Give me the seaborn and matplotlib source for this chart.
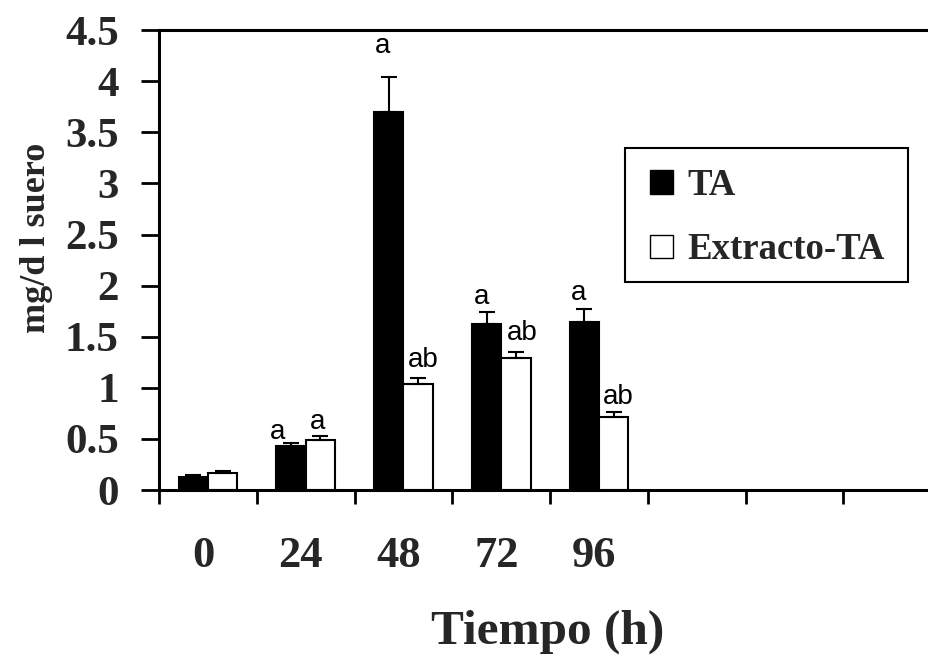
import matplotlib
matplotlib.use("Agg")
import matplotlib.pyplot as plt
from matplotlib.patches import Rectangle
import seaborn as sns
import pandas as pd
import numpy as np

# ---- data ----
times = ["0", "24", "48", "72", "96"]
series_names = ["TA", "Extracto-TA"]
ta_values = [0.13, 0.43, 3.70, 1.62, 1.64]
ta_errors = [0.02, 0.03, 0.34, 0.12, 0.13]
ext_values = [0.17, 0.49, 1.04, 1.29, 0.71]
ext_errors = [0.02, 0.04, 0.06, 0.06, 0.05]
# significance letters: (time, series, text, x offset from bar, y position)
letters = [
    ("24", "TA", "a", -0.14, 0.57),
    ("24", "Extracto-TA", "a", -0.03, 0.67),
    ("48", "TA", "a", -0.06, 4.35),
    ("48", "Extracto-TA", "ab", 0.05, 1.27),
    ("72", "TA", "a", -0.05, 1.89),
    ("72", "Extracto-TA", "ab", 0.07, 1.54),
    ("96", "TA", "a", -0.06, 1.93),
    ("96", "Extracto-TA", "ab", 0.05, 0.91),
]
y_tick_labels = ["0", "0.5", "1", "1.5", "2", "2.5", "3", "3.5", "4", "4.5"]
n_slots = 8  # axis has room for 8 time slots, only 5 used

df = pd.DataFrame({
    "Tiempo": times * 2,
    "Serie": [series_names[0]] * len(times) + [series_names[1]] * len(times),
    "valor": ta_values + ext_values,
})

sns.set_theme(style="white")
plt.rcParams["font.family"] = ["Liberation Serif", "DejaVu Serif"]

fig = plt.figure(figsize=(9.29, 6.56), dpi=100)
ax = fig.add_axes([0.1711, 0.253, 0.842, 0.701])

sns.barplot(data=df, x="Tiempo", y="valor", hue="Serie", order=times,
            hue_order=series_names, palette=["black", "white"],
            edgecolor="black", linewidth=1.5, width=0.6, errorbar=None,
            ax=ax, legend=True)

errs = [ta_errors, ext_errors]
centers = {}
bar_containers = list(ax.containers)
for s, cont in enumerate(bar_containers):
    for j, bar in enumerate(cont.patches):
        xc = bar.get_x() + bar.get_width() / 2
        h = bar.get_height()
        centers[(times[j], series_names[s])] = xc
        ax.errorbar(xc, h, yerr=[[0], [errs[s][j]]], fmt="none",
                    ecolor="black", elinewidth=1.5, capsize=5.5,
                    capthick=1.5, zorder=1)

for t, s, txt, dx, y in letters:
    ax.text(centers[(t, s)] + dx, y, txt, ha="center", va="center",
            fontsize=20, family="Liberation Sans", color="black")

ax.set_xlim(-0.5, n_slots - 0.5)
ax.set_ylim(0, 4.5)
ax.set_yticks(np.arange(0, 4.51, 0.5))
ax.set_yticklabels(y_tick_labels, fontsize=31, fontweight="bold")
ax.set_xticks(np.arange(-0.5, n_slots, 1.0))
ax.set_xticklabels([])
ax.set_xticks(np.arange(len(times)) - 0.05, minor=True)
ax.set_xticklabels(times, minor=True, fontsize=32, fontweight="bold")
ax.tick_params(axis="x", which="minor", length=0, pad=33)
ax.tick_params(axis="x", which="major", direction="out", length=10, width=2,
               color="black", bottom=True)
ax.tick_params(axis="y", direction="out", length=13, width=2, color="black",
               left=True, pad=16)

for side in ["left", "bottom", "top", "right"]:
    ax.spines[side].set_visible(True)
    ax.spines[side].set_color("black")
    ax.spines[side].set_linewidth(2.2)

ax.set_xlabel("Tiempo (h)", fontsize=35.5, fontweight="bold")
ax.xaxis.label.set_verticalalignment("baseline")
ax.xaxis.set_label_coords(0.497, -0.333)
ax.set_ylabel("mg/d l suero", fontsize=26, fontweight="bold")
ax.yaxis.set_label_coords(-0.135, 0.548)

leg = ax.legend(loc="upper left", bbox_to_anchor=(650 / 929, 1 - 168 / 656),
                bbox_transform=fig.transFigure, frameon=False,
                prop={"family": "Liberation Serif", "weight": "bold",
                      "size": 26.5},
                handlelength=0.62, handleheight=0.62, labelspacing=0.8,
                borderpad=0, handletextpad=0.4, borderaxespad=0)
for h in leg.legend_handles:
    h.set_edgecolor("black")
    h.set_linewidth(1.0)
fig.patches.append(Rectangle((625 / 929, 1 - 282 / 656), 283 / 929, 134 / 656,
                             transform=fig.transFigure, fill=False,
                             edgecolor="black", linewidth=1.5, zorder=5))

fig.savefig("out.png", dpi=100)
